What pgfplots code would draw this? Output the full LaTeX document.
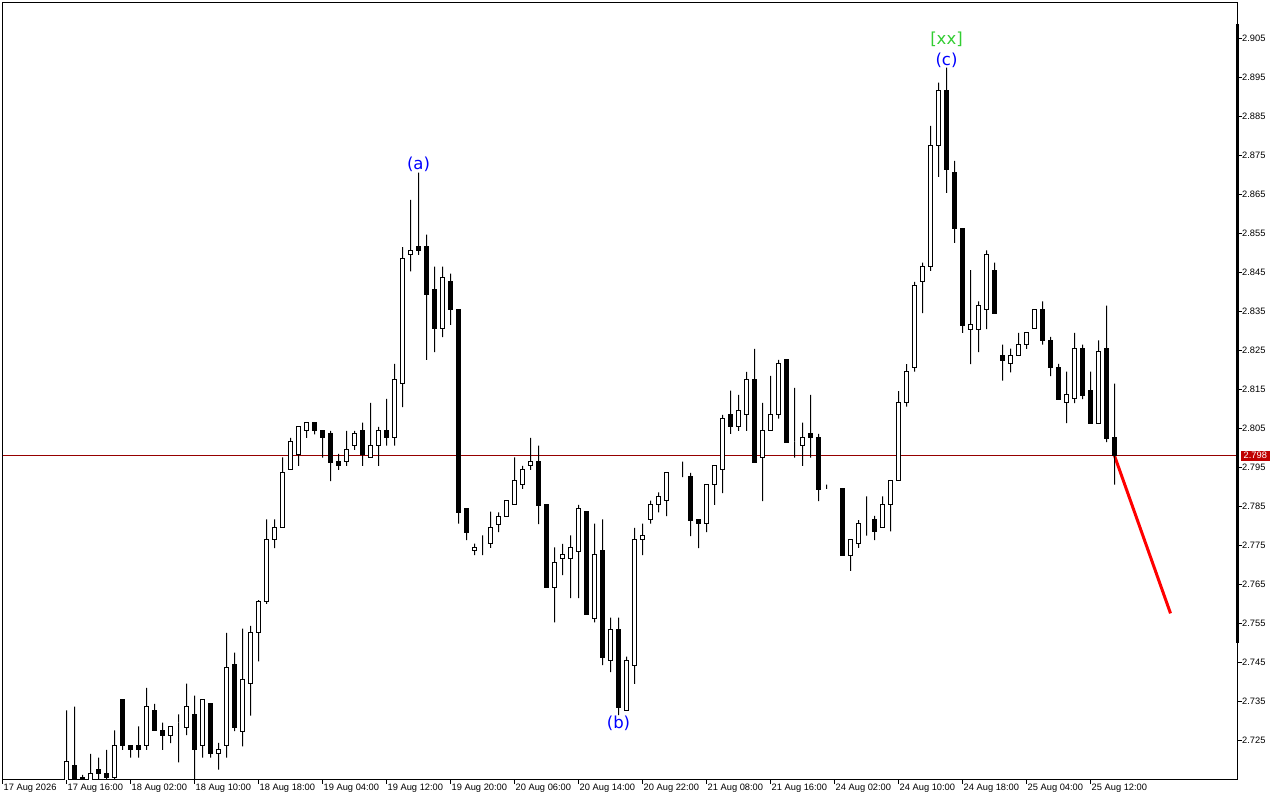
\documentclass[border=0pt]{standalone}
\usepackage{fontspec}
\setmainfont{Liberation Sans}
\newfontfamily\wavefont{DejaVu Sans}
\usepackage{pgfplots}
\usepackage{pgfplotstable}
\pgfplotsset{compat=1.18}

\definecolor{bidline}{RGB}{150,0,0}
\definecolor{pricebox}{RGB}{192,0,0}
\definecolor{wavegreen}{RGB}{50,205,50}
\definecolor{waveblue}{RGB}{0,0,255}
\newcommand\tickfont{\fontsize{9.3}{11}\selectfont}
\newcommand\wavesize{\wavefont\fontsize{16.5}{18}\selectfont}

% hourly candles: bar index, open, high, low, close
\pgfplotstableread{
i o h l c
0 2.7140 2.7327 2.7120 2.7195
1 2.7185 2.7337 2.7130 2.7140
2 2.7156 2.7162 2.7140 2.7150
3 2.7145 2.7216 2.7140 2.7165
4 2.7175 2.7206 2.7140 2.7165
5 2.7165 2.7226 2.7140 2.7155
6 2.7155 2.7276 2.7148 2.7236
7 2.7354 2.7354 2.7226 2.7236
8 2.7236 2.7236 2.7206 2.7226
9 2.7236 2.7286 2.7206 2.7226
10 2.7236 2.7385 2.7226 2.7337
11 2.7327 2.7344 2.7276 2.7276
12 2.7276 2.7296 2.7226 2.7264
13 2.7264 2.7286 2.7243 2.7286
14 2.7296 2.7317 2.7194 2.7296
15 2.7284 2.7396 2.7264 2.7337
16 2.7317 2.7365 2.7140 2.7226
17 2.7236 2.7354 2.7206 2.7354
18 2.7344 2.7344 2.7206 2.7216
19 2.7216 2.7244 2.7175 2.7226
20 2.7236 2.7526 2.7206 2.7436
21 2.7444 2.7475 2.7274 2.7284
22 2.7274 2.7537 2.7235 2.7406
23 2.7395 2.7544 2.7314 2.7526
24 2.7526 2.7610 2.7453 2.7606
25 2.7606 2.7817 2.7600 2.7765
26 2.7765 2.7817 2.7743 2.7795
27 2.7795 2.7976 2.7795 2.7936
28 2.7944 2.8026 2.7944 2.8016
29 2.7984 2.8054 2.7954 2.8054
30 2.8044 2.8065 2.8026 2.8065
31 2.8065 2.8065 2.8035 2.8044
32 2.8044 2.8044 2.7975 2.8026
33 2.8036 2.8044 2.7915 2.7964
34 2.7965 2.7985 2.7944 2.7954
35 2.7965 2.8044 2.7954 2.7995
36 2.8006 2.8044 2.7995 2.8036
37 2.8044 2.8065 2.7954 2.7984
38 2.7975 2.8116 2.7975 2.8006
39 2.8006 2.8054 2.7954 2.8044
40 2.8044 2.8126 2.8006 2.8026
41 2.8026 2.8216 2.8006 2.8175
42 2.8165 2.8515 2.8105 2.8485
43 2.8495 2.8636 2.8453 2.8506
44 2.8516 2.8706 2.8495 2.8506
45 2.8516 2.8547 2.8226 2.8394
46 2.8406 2.8465 2.8246 2.8306
47 2.8306 2.8465 2.8284 2.8436
48 2.8426 2.8447 2.8316 2.8354
49 2.8354 2.8354 2.7806 2.7835
50 2.7844 2.7844 2.7764 2.7784
51 2.7736 2.7755 2.7725 2.7745
52 2.7754 2.7776 2.7725 2.7754
53 2.7754 2.7837 2.7744 2.7795
54 2.7805 2.7835 2.7784 2.7825
55 2.7825 2.7865 2.7825 2.7865
56 2.7854 2.7976 2.7854 2.7916
57 2.7906 2.7954 2.7895 2.7944
58 2.7954 2.8026 2.7944 2.7965
59 2.7965 2.8006 2.7805 2.7853
60 2.7854 2.7854 2.7643 2.7643
61 2.7643 2.7745 2.7553 2.7706
62 2.7716 2.7754 2.7674 2.7726
63 2.7716 2.7776 2.7615 2.7745
64 2.7735 2.7854 2.7615 2.7844
65 2.7837 2.7837 2.7574 2.7574
66 2.7564 2.7806 2.7553 2.7726
67 2.7736 2.7817 2.7443 2.7464
68 2.7455 2.7565 2.7425 2.7535
69 2.7535 2.7565 2.7315 2.7335
70 2.7327 2.7465 2.7327 2.7455
71 2.7443 2.7795 2.7395 2.7765
72 2.7765 2.7806 2.7725 2.7775
73 2.7816 2.7865 2.7806 2.7855
74 2.7855 2.7886 2.7835 2.7876
75 2.7865 2.7936 2.7825 2.7936
76 2.7936 2.7936 2.7936 2.7936
77 2.7936 2.7965 2.7925 2.7936
78 2.7926 2.7936 2.7774 2.7815
79 2.7816 2.7816 2.7743 2.7806
80 2.7806 2.7906 2.7784 2.7906
81 2.7906 2.7954 2.7854 2.7954
82 2.7944 2.8085 2.7884 2.8075
83 2.8085 2.8147 2.8036 2.8054
84 2.8054 2.8136 2.8044 2.8095
85 2.8085 2.8195 2.8044 2.8175
86 2.8175 2.8254 2.7964 2.7964
87 2.7975 2.8116 2.7864 2.8044
88 2.8044 2.8185 2.8044 2.8085
89 2.8085 2.8226 2.8075 2.8216
90 2.8226 2.8226 2.8015 2.8015
91 2.8017 2.8154 2.7975 2.8017
92 2.8006 2.8065 2.7954 2.8026
93 2.8036 2.8136 2.7975 2.8026
94 2.8026 2.8036 2.7864 2.7894
95 2.7895 2.7906 2.7895 2.7895
96 2.7895 2.7895 2.7895 2.7895
97 2.7896 2.7896 2.7725 2.7725
98 2.7725 2.7765 2.7685 2.7765
99 2.7754 2.7815 2.7744 2.7806
100 2.7816 2.7876 2.7775 2.7816
101 2.7816 2.7826 2.7764 2.7786
102 2.7795 2.7876 2.7795 2.7855
103 2.7855 2.7916 2.7786 2.7916
104 2.7916 2.8146 2.7916 2.8116
105 2.8116 2.8215 2.8106 2.8196
106 2.8206 2.8426 2.8196 2.8416
107 2.8426 2.8475 2.8346 2.8465
108 2.8465 2.8826 2.8454 2.8775
109 2.8775 2.8937 2.8695 2.8916
110 2.8916 2.8975 2.8654 2.8715
111 2.8706 2.8736 2.8526 2.8564
112 2.8564 2.8564 2.8295 2.8315
113 2.8305 2.8456 2.8215 2.8316
114 2.8305 2.8376 2.8246 2.8365
115 2.8355 2.8507 2.8305 2.8495
116 2.8456 2.8475 2.8346 2.8346
117 2.8237 2.8265 2.8173 2.8225
118 2.8216 2.8255 2.8194 2.8236
119 2.8236 2.8295 2.8236 2.8265
120 2.8265 2.8295 2.8254 2.8295
121 2.8306 2.8354 2.8306 2.8354
122 2.8354 2.8376 2.8265 2.8275
123 2.8275 2.8285 2.8184 2.8206
124 2.8206 2.8216 2.8125 2.8125
125 2.8116 2.8196 2.8064 2.8136
126 2.8126 2.8295 2.8115 2.8254
127 2.8254 2.8265 2.8125 2.8135
128 2.8147 2.8196 2.8064 2.8064
129 2.8064 2.8276 2.8064 2.8247
130 2.8254 2.8365 2.8015 2.8025
131 2.8026 2.8165 2.7906 2.7980
}\candles

% frame sits on half points so 1pt strokes fall on whole pixels
\pgfplotsset{mtframe/.style={
  at={(2.5pt,20.5pt)}, anchor=south west,
  scale only axis, width=1235pt, height=777pt,
  xmin=-8, xmax=146.375, ymin=2.715, ymax=2.91423}}

\begin{document}
\begin{tikzpicture}
% lines and wave labels behind the candles
\begin{axis}[mtframe, hide axis, clip=false]
  \addplot[bidline, line width=1pt] coordinates {(-8,2.798) (146.375,2.798)};
  \addplot[red, line width=3pt] coordinates {(131,2.798) (138,2.7576)};
  \draw[line width=3pt] (axis cs:146.375,2.90877) -- (axis cs:146.375,2.7501);
  \node[font=\wavesize, text=waveblue, inner sep=0pt] at (axis cs:44,2.8727) {(a)};
  \node[font=\wavesize, text=waveblue, inner sep=0pt] at (axis cs:69,2.7293) {(b)};
  \node[font=\wavesize, text=waveblue, inner sep=0pt] at (axis cs:110,2.8994) {(c)};
  \node[font=\wavesize, text=wavegreen, inner sep=0pt] at (axis cs:110,2.9049) {[xx]};
  \node[fill=pricebox, text=white, font=\tickfont, inner xsep=3pt, inner ysep=1.5pt,
        anchor=west, xshift=3pt] at (axis cs:146.375,2.798) {2.798};
\end{axis}
\begin{axis}[mtframe,
    ybar stacked,
    axis line style={black, line width=1pt},
    tick align=outside,
    major tick length=4.5pt,
    tick style={black, line width=1pt},
    xtick pos=left, ytick pos=right, yticklabel pos=right,
    xtick={-8,0,8,...,128},
    xticklabels={17 Aug 2026, 17 Aug 16:00, 18 Aug 02:00, 18 Aug 10:00, 18 Aug 18:00,
      19 Aug 04:00, 19 Aug 12:00, 19 Aug 20:00, 20 Aug 06:00, 20 Aug 14:00,
      20 Aug 22:00, 21 Aug 08:00, 21 Aug 16:00, 24 Aug 02:00, 24 Aug 10:00,
      24 Aug 18:00, 25 Aug 04:00, 25 Aug 12:00},
    ytick={2.725,2.735,2.745,2.755,2.765,2.775,2.785,2.795,2.805,2.815,
      2.825,2.835,2.845,2.855,2.865,2.875,2.885,2.895,2.905},
    yticklabel={\pgfmathprintnumber[fixed,fixed zerofill,precision=3]{\tick}},
    /pgf/number format/assume math mode=true,
    xticklabel style={font=\tickfont, anchor=north west, inner sep=0pt, xshift=1pt},
    yticklabel style={font=\tickfont, anchor=west, inner sep=0pt},
  ]
  % invisible base up to the low
  \addplot[draw=none, fill=none, bar width=1pt] table[x=i, y=l] {\candles};
  % lower wick
  \addplot[draw=none, fill=black, bar width=1pt]
    table[x=i, y expr={min(\thisrow{o},\thisrow{c})-\thisrow{l}}] {\candles};
  % rising body
  \addplot[draw=black, fill=white, line width=1pt, bar width=4pt]
    table[x=i, y expr={max(\thisrow{c}-\thisrow{o},0)}] {\candles};
  % falling body
  \addplot[draw=black, fill=black, line width=1pt, bar width=4pt]
    table[x=i, y expr={max(\thisrow{o}-\thisrow{c},0)}] {\candles};
  % upper wick
  \addplot[draw=none, fill=black, bar width=1pt]
    table[x=i, y expr={\thisrow{h}-max(\thisrow{o},\thisrow{c})}] {\candles};
\end{axis}
\pgfresetboundingbox
\path (0,0) rectangle (1280pt,800pt);
\end{tikzpicture}
\end{document}
